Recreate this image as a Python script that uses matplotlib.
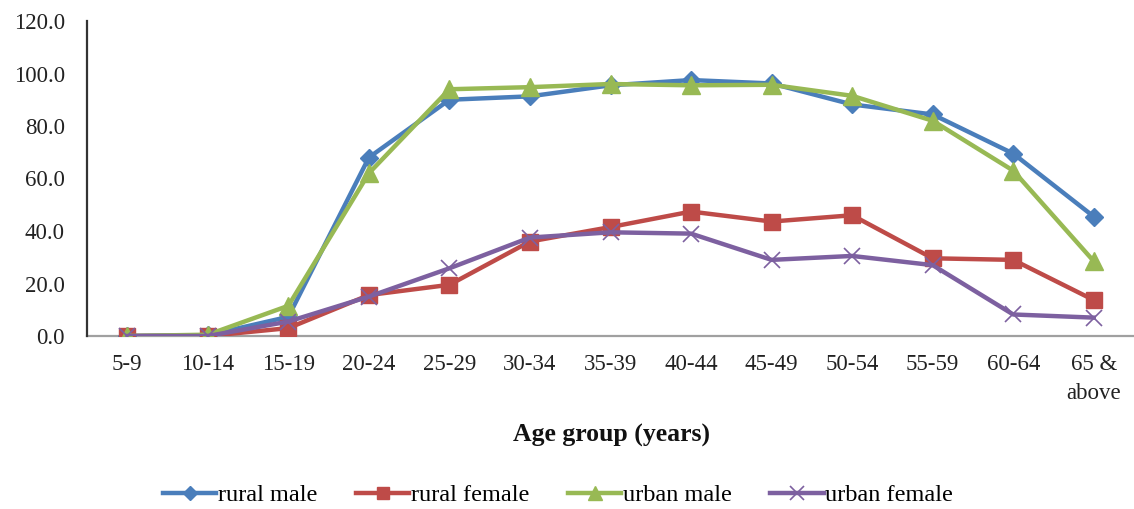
import matplotlib
matplotlib.use("Agg")
import matplotlib.pyplot as plt

age_groups = ["5-9", "10-14", "15-19", "20-24", "25-29", "30-34", "35-39",
              "40-44", "45-49", "50-54", "55-59", "60-64", "65 &\nabove"]

rural_male = [0.0, 0.3, 7.3, 68.0, 90.0, 91.3, 95.5, 97.5, 96.2, 88.2, 84.4, 69.5, 45.5]
rural_female = [0.0, 0.0, 3.0, 15.6, 19.5, 36.0, 41.5, 47.4, 43.6, 46.0, 29.6, 29.0, 13.7]
urban_male = [0.0, 0.5, 11.5, 62.0, 94.0, 94.8, 96.0, 95.5, 95.7, 91.5, 82.0, 63.0, 28.5]
urban_female = [0.0, 0.0, 5.5, 15.0, 25.8, 37.5, 39.5, 39.0, 29.0, 30.5, 27.0, 8.2, 7.0]

series = [
    ("rural male", rural_male, "#4A7EBB", "D", 9.5),
    ("rural female", rural_female, "#BE4B48", "s", 11.5),
    ("urban male", urban_male, "#98B954", "^", 12.5),
    ("urban female", urban_female, "#7D60A0", "x", 12),
]

plt.rcParams["font.family"] = ["Liberation Serif", "DejaVu Serif"]

fig = plt.figure(figsize=(11.34, 5.09), dpi=100)
ax = fig.add_axes([87 / 1134, 1 - 336 / 509, 1 - 87 / 1134, (336 - 21) / 509])

x = list(range(len(age_groups)))
for label, vals, color, marker, ms in series:
    kw = dict(color=color, lw=3.2, marker=marker, markersize=ms, label=label,
              solid_joinstyle="round")
    if marker == "x":
        kw.update(markeredgewidth=1.2, markeredgecolor=color)
    else:
        kw.update(markeredgecolor=color)
    ax.plot(x, vals, **kw)

ax.set_xlim(-0.5, len(age_groups) - 0.5)
ax.set_ylim(0, 120)
ax.set_yticks(range(0, 121, 20))
ax.set_yticklabels([f"{v:.1f}" for v in range(0, 121, 20)])
ax.set_xticks(x)
ax.set_xticklabels(age_groups, linespacing=1.5)
ax.tick_params(axis="both", length=0, labelsize=16.5, colors="#222222")
ax.tick_params(axis="x", pad=13)
ax.tick_params(axis="y", pad=16)

for s in ("top", "right"):
    ax.spines[s].set_visible(False)
ax.spines["left"].set_color("#333333")
ax.spines["left"].set_linewidth(1.6)
ax.spines["bottom"].set_color("#A0A0A0")
ax.spines["bottom"].set_linewidth(1.6)
ax.spines["bottom"].set_zorder(0)

fig.text(0.539, 1 - 435 / 509, "Age group (years)", ha="center", va="center",
         fontsize=18.5, fontweight="bold", color="#111111")

leg = fig.legend(loc="center", bbox_to_anchor=(0.492, 1 - 495 / 509), ncol=4,
                 frameon=False, fontsize=17.5, handlelength=2.2, handletextpad=0.05,
                 columnspacing=1.6, markerscale=0.8)

fig.savefig("out.png", dpi=100)
